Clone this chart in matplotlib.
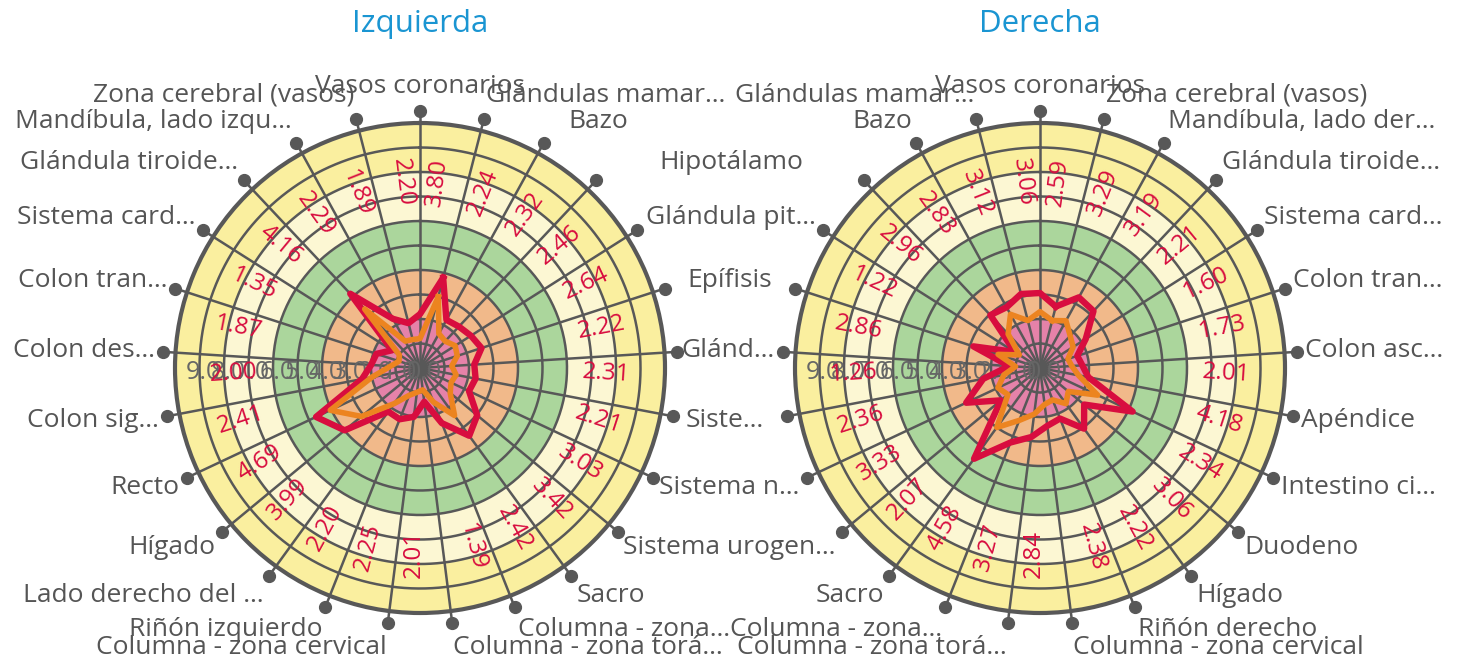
import numpy as np
import matplotlib.pyplot as plt

plt.rcParams['font.family'] = ['Open Sans', 'DejaVu Sans']

# categories, clockwise from the top spoke
left_labels = ["Vasos coronarios", "Glándulas mamar…", "Bazo", "Hipotálamo", "Glándula pit…",
               "Epífisis", "Glánd…", "Siste…", "Sistema n…", "Sistema urogen…", "Sacro",
               "Columna - zona…", "Columna - zona torá…", "Columna - zona cervical",
               "Riñón izquierdo", "Lado derecho del …", "Hígado", "Recto", "Colon sig…",
               "Colon des…", "Colon tran…", "Sistema card…", "Glándula tiroide…",
               "Mandíbula, lado izqu…", "Zona cerebral (vasos)"]
right_labels = ["Vasos coronarios", "Zona cerebral (vasos)", "Mandíbula, lado der…",
                "Glándula tiroide…", "Sistema card…", "Colon tran…", "Colon asc…", "Apéndice",
                "Intestino ci…", "Duodeno", "Hígado", "Riñón derecho", "Columna - zona cervical",
                "Columna - zona torá…", "Columna - zona…", "Sacro", "Sistema urogen…",
                "Sistema n…", "Siste…", "Glánd…", "Epífisis", "Glándula pit…", "Hipotálamo",
                "Bazo", "Glándulas mamar…"]

# values (one per sector, clockwise from the top)
left_values = [3.80, 2.24, 2.32, 2.46, 2.64, 2.22, 2.31, 2.21, 3.03, 3.42, 2.42, 1.39, 2.01,
               2.25, 2.20, 3.99, 4.69, 2.41, 2.00, 1.87, 1.35, 4.16, 2.29, 1.89, 2.20]
left_second = [3.0, 1.6, 1.5, 1.7, 1.6, 1.3, 1.5, 1.4, 1.6, 2.4, 1.5, 0.9, 1.0,
               1.2, 1.8, 3.1, 4.05, 2.0, 1.2, 0.9, 1.0, 3.3, 1.25, 1.2, 1.2]
right_values = [2.59, 3.29, 3.19, 2.21, 1.60, 1.73, 2.01, 4.18, 2.34, 3.06, 2.22, 2.38, 2.84,
                3.27, 4.58, 2.07, 3.33, 2.36, 1.26, 2.86, 1.22, 2.96, 2.83, 3.12, 3.06]
right_second = [2.0, 2.2, 1.8, 1.6, 1.2, 1.3, 1.6, 2.6, 1.5, 1.8, 1.4, 1.5, 1.9,
                2.3, 3.0, 1.7, 1.9, 1.5, 1.0, 1.8, 1.0, 1.9, 2.5, 2.0, 2.3]

band_edges = [0, 2, 4, 6, 8, 10]
band_colors = ['#e582a9', '#f1b98a', '#abd69c', '#fcf7d3', '#faef9f']

W, H = 1459, 663
R = 245
CY = 368
GRID = '#585858'
RED = '#d80d3f'
ORANGE = '#ec8420'

fig = plt.figure(figsize=(W / 100, H / 100), dpi=100)
N = 25
step = 2 * np.pi / N
spokes = np.arange(N) * step
cells = spokes + step / 2


def radar(cx, title, labels, values, second, hidden=(), nudges=None):
    nudges = nudges or {}
    ax = fig.add_axes([(cx - R) / W, (H - CY - R) / H, 2 * R / W, 2 * R / H], projection='polar')
    ax.set_theta_zero_location('N')
    ax.set_theta_direction(-1)
    ax.set_ylim(0, 10)
    ax.set_xticks([])
    ax.set_yticks([])
    ax.grid(False)
    ax.spines['polar'].set_color(GRID)
    ax.spines['polar'].set_linewidth(3)

    th = np.linspace(0, 2 * np.pi, 400)
    for r0, r1, c in zip(band_edges[:-1], band_edges[1:], band_colors):
        ax.fill_between(th, r0, r1, color=c, lw=0, zorder=0)
    for r in range(1, 10):
        ax.plot(th, np.full_like(th, r), color=GRID, lw=1.8, zorder=1)
    for t in spokes:
        ax.plot([t, t], [0, 10.3], color=GRID, lw=1.8, zorder=1, clip_on=False)
    ax.plot(spokes, np.full(N, 10.5), 'o', ms=8.5, color=GRID, clip_on=False)

    # radial scale labels along the left
    for k in range(10):
        ax.annotate(f"{k}.0", xy=(1.5 * np.pi, k), xytext=(3, -3), textcoords='offset points',
                    ha='center', va='center', color='#666666', fontsize=18, zorder=2)

    # series: value of sector j sits on the spoke that closes the sector
    pts = cells + step / 2
    for vals, col, lw in ((values, RED, 4.6), (second, ORANGE, 4.0)):
        ax.plot(np.append(pts, pts[0]), np.append(vals, vals[0]), color=col, lw=lw,
                solid_joinstyle='round', zorder=3)

    for phi, v in zip(cells, values):
        d = np.degrees(phi)
        rot = 90 - d if d < 179 else 270 - d
        ax.text(phi, 7.6, f"{v:.2f}", rotation=rot, rotation_mode='anchor', ha='center',
                va='baseline', color=RED, fontsize=17.5, zorder=4)

    for k, (t, lab) in enumerate(zip(spokes, labels)):
        if k in hidden:
            continue
        s, c = np.sin(t), np.cos(t)
        ha = 'center' if abs(s) < 0.05 else ('left' if s > 0 else 'right')
        dx = 8.6 * s + nudges.get(k, 0)
        dy = 24.5 * c
        ax.annotate(lab, xy=(t, 10.5), xytext=(dx * 0.72, dy * 0.72), textcoords='offset points',
                    ha=ha, va='center', fontsize=19, color='#555555', annotation_clip=False)

    fig.text(cx / W, 1 - 24 / H, title, ha='center', va='center', fontsize=22.5, color='#1a95d2')


radar(420, "Izquierda", left_labels, left_values, left_second,
      hidden=range(3, 10), nudges={2: 20})
radar(1040, "Derecha", right_labels, right_values, right_second,
      nudges={22: -55, 20: -15, 18: -15})

fig.savefig("out.png", dpi=100)
